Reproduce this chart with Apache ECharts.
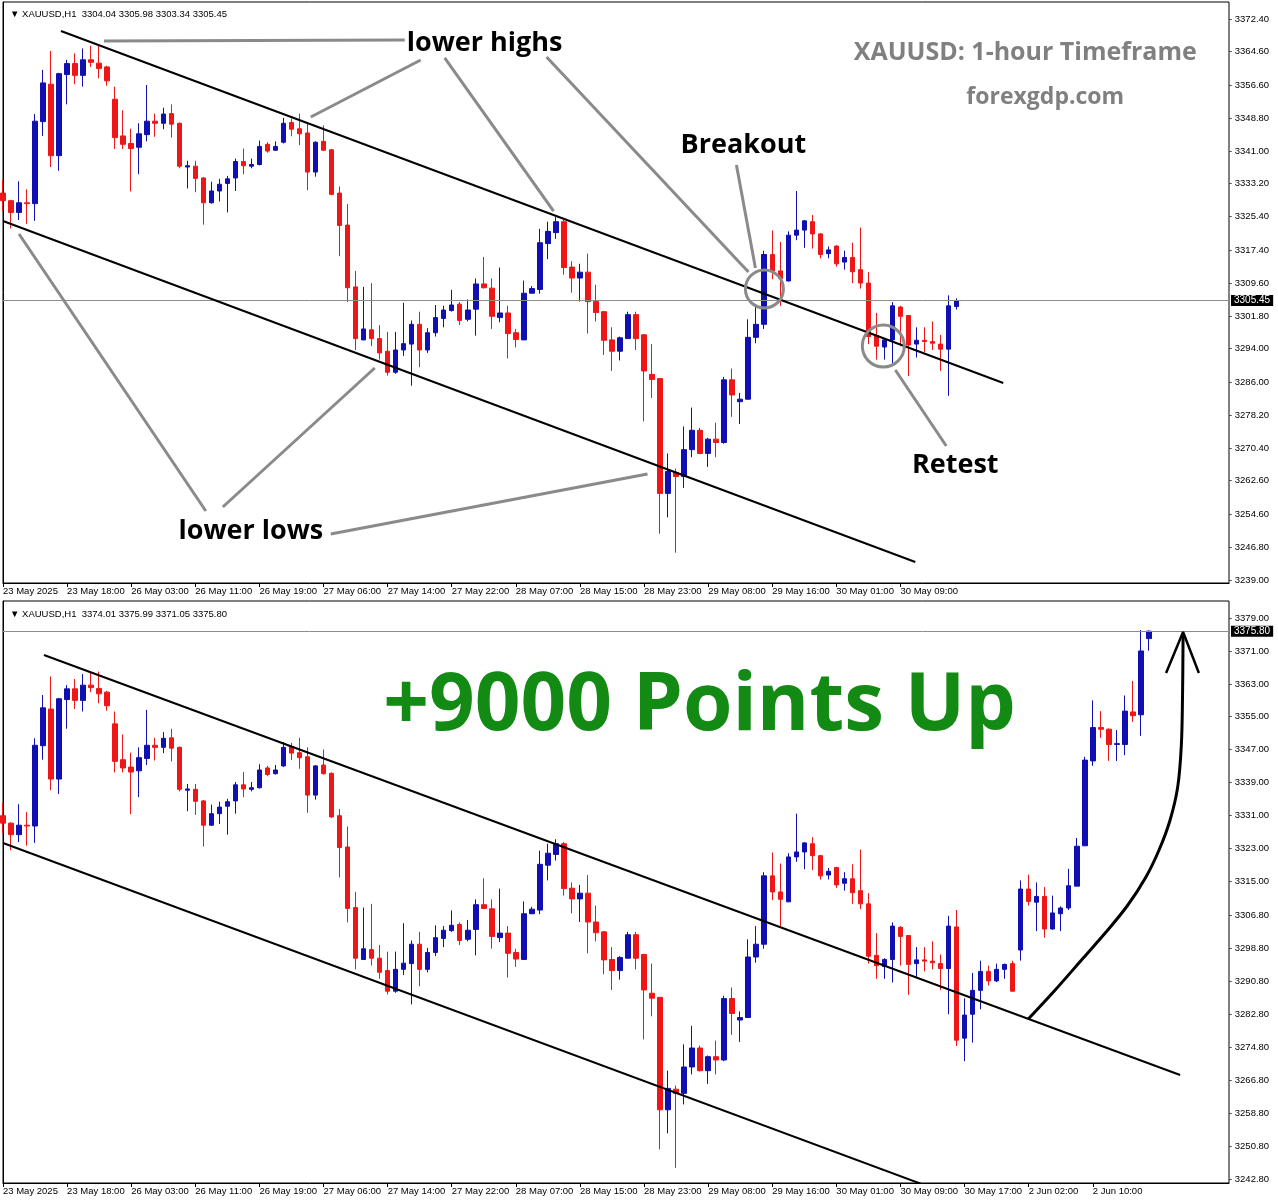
<!DOCTYPE html>
<html><head><meta charset="utf-8">
<script src="https://cdn.jsdelivr.net/npm/echarts@6/dist/echarts.min.js"></script>
<style>html,body{margin:0;padding:0;background:#fff}#c{width:1278px;height:1201px}</style>
</head><body><div id="c"></div>
<script>
// ---------- DATA ----------
const timeTicks = ['23 May 2025','23 May 18:00','26 May 03:00','26 May 11:00','26 May 19:00','27 May 06:00','27 May 14:00','27 May 22:00','28 May 07:00','28 May 15:00','28 May 23:00','29 May 08:00','29 May 16:00','30 May 01:00','30 May 09:00','30 May 17:00','2 Jun 02:00','2 Jun 10:00'];
const topTickCount = 15;
const bottomTickCount = 18;

// hourly bars [open, high, low, close], 23 May 10:00 .. 30 May 15:00 (shared by both panels)
const baseOHLC = [
[3331.0,3334.2,3326.7,3329.2],[3329.2,3329.4,3322.6,3326.4],[3326.4,3333.8,3324.6,3328.7],[3328.7,3331.9,3323.7,3328.5],
[3328.5,3349.8,3324.4,3348.1],[3348.0,3360.3,3344.6,3357.2],[3356.9,3364.8,3337.2,3339.9],[3339.9,3359.6,3336.3,3359.4],
[3359.2,3362.7,3352.1,3361.8],[3361.8,3364.2,3356.9,3359.0],[3359.0,3365.4,3356.3,3362.7],[3362.7,3366.0,3361.0,3362.1],
[3361.9,3366.0,3358.3,3360.6],[3361.0,3361.3,3356.5,3357.7],[3353.3,3356.3,3341.5,3344.2],[3344.6,3350.7,3341.5,3342.6],
[3342.8,3346.3,3331.4,3341.6],[3341.9,3347.6,3335.5,3345.1],[3344.9,3356.7,3343.3,3348.1],[3348.1,3349.9,3344.4,3347.6],
[3347.6,3351.3,3346.2,3349.8],[3349.9,3352.1,3344.2,3347.4],[3347.6,3347.8,3336.9,3337.4],[3337.2,3338.7,3332.1,3337.5],
[3337.4,3338.7,3331.2,3334.5],[3334.6,3334.8,3323.5,3328.7],[3328.7,3333.7,3328.5,3331.5],[3331.5,3334.4,3329.0,3333.1],
[3333.3,3335.1,3326.4,3334.4],[3334.6,3339.2,3331.5,3338.5],[3338.5,3341.6,3335.5,3337.5],[3337.4,3339.2,3336.9,3337.8],
[3337.8,3343.5,3337.6,3342.1],[3342.6,3343.1,3340.6,3341.0],[3341.2,3343.3,3341.0,3342.1],[3343.1,3348.9,3342.8,3347.6],
[3347.8,3348.7,3344.5,3346.2],[3346.3,3349.9,3342.4,3345.1],[3345.3,3347.6,3331.7,3336.0],[3336.0,3343.3,3334.9,3343.1],
[3343.3,3347.1,3341.0,3341.2],[3341.3,3341.5,3330.5,3330.7],[3331.0,3332.6,3316.0,3323.3],[3323.4,3328.4,3305.1,3308.5],
[3308.7,3312.5,3293.7,3296.4],[3296.1,3308.7,3296.0,3298.7],[3298.5,3309.6,3294.6,3296.4],[3296.4,3299.6,3291.4,3293.0],
[3293.4,3298.0,3287.6,3288.4],[3288.4,3298.0,3288.0,3293.7],[3293.7,3304.9,3292.3,3295.2],[3295.1,3300.7,3285.2,3299.8],
[3299.8,3302.8,3289.6,3293.7],[3293.7,3298.9,3293.0,3297.8],[3297.8,3304.4,3296.9,3301.4],[3301.2,3304.2,3299.1,3303.2],
[3303.1,3308.0,3302.8,3304.4],[3304.6,3305.1,3299.6,3300.7],[3301.0,3305.7,3300.5,3303.2],[3303.4,3310.7,3297.1,3309.4],
[3309.4,3315.8,3308.3,3308.5],[3308.4,3310.7,3298.7,3301.7],[3301.4,3313.3,3300.3,3302.5],[3302.5,3304.2,3291.7,3297.6],
[3297.8,3298.7,3294.3,3296.2],[3296.1,3310.2,3296.1,3307.2],[3307.2,3308.9,3307.1,3308.3],[3308.1,3322.5,3307.1,3319.2],
[3319.0,3324.2,3315.3,3321.9],[3321.6,3325.3,3320.1,3324.2],[3324.2,3324.6,3311.6,3313.3],[3313.4,3314.8,3307.3,3310.8],
[3310.8,3314.2,3305.2,3312.2],[3312.2,3316.6,3297.6,3305.2],[3305.2,3309.2,3300.5,3302.6],[3302.8,3303.0,3292.5,3296.0],
[3296.1,3299.1,3288.7,3293.4],[3293.4,3296.9,3291.2,3296.6],[3296.4,3302.8,3296.4,3302.1],[3302.1,3302.8,3293.7,3296.4],
[3297.3,3297.5,3276.7,3288.7],[3287.9,3295.1,3282.3,3286.7],[3286.9,3287.0,3250.0,3259.6],[3259.6,3269.1,3253.9,3264.8],
[3264.6,3265.5,3245.5,3263.6],[3263.6,3275.5,3260.9,3270.0],[3270.0,3280.0,3268.2,3274.6],[3274.6,3275.2,3268.9,3269.1],
[3269.1,3272.8,3265.9,3272.5],[3272.5,3276.4,3268.2,3271.7],[3271.7,3287.3,3271.4,3286.6],[3286.6,3289.3,3277.8,3283.0],
[3281.4,3283.5,3276.1,3282.0],[3282.0,3301.0,3281.9,3296.7],[3296.7,3304.2,3295.3,3299.8],[3299.8,3317.3,3298.7,3316.4],
[3316.4,3322.1,3310.5,3312.5],[3312.5,3319.4,3304.2,3310.7],[3310.1,3321.9,3310.0,3321.0],[3321.0,3331.5,3319.8,3322.2],
[3322.2,3324.6,3318.0,3324.4],[3324.2,3325.8,3317.8,3321.3],[3321.3,3321.5,3315.5,3316.4],[3316.6,3318.3,3315.5,3317.5],
[3318.4,3318.6,3313.5,3314.2],[3314.6,3317.3,3312.8,3315.7],[3315.7,3319.2,3309.6,3312.3],[3312.8,3322.8,3308.3,3309.6],
[3309.6,3312.2,3295.1,3296.9],[3297.1,3302.5,3291.4,3294.6],[3294.4,3296.4,3291.4,3296.1],[3296.1,3305.1,3290.5,3304.2],
[3303.9,3304.2,3294.6,3301.7],[3301.9,3302.0,3287.5,3294.9],[3295.1,3299.1,3291.9,3296.0],[3296.0,3299.1,3293.2,3295.7],
[3295.7,3300.5,3293.7,3295.3],[3295.1,3297.3,3288.7,3293.9],[3293.9,3306.7,3282.8,3304.2]
];
// forming bar of the upper screenshot (30 May 16:00)
const topLiveBar = [3304.04,3305.98,3303.34,3305.45];
// bars of the lower screenshot from 30 May 16:00 to 2 Jun 17:00
const bottomTailOHLC = [
[3304.0,3308.1,3275.1,3276.5],[3277.0,3286.7,3271.4,3282.6],[3282.8,3292.8,3275.9,3288.6],[3288.6,3295.8,3284.0,3293.2],
[3293.2,3294.6,3289.8,3290.9],[3290.9,3295.1,3290.6,3293.7],[3293.7,3295.1,3291.4,3294.9],[3295.1,3295.8,3288.3,3288.4],
[3298.4,3315.3,3295.8,3313.2],[3313.2,3316.7,3309.2,3310.2],[3310.0,3314.8,3303.0,3311.4],[3311.4,3313.7,3301.4,3303.5],
[3303.5,3311.6,3303.3,3307.4],[3307.2,3309.0,3303.0,3308.6],[3308.6,3318.1,3308.1,3314.0],[3313.9,3325.6,3313.9,3323.6],
[3323.7,3345.3,3323.7,3344.5],[3344.3,3359.0,3343.1,3352.4],[3352.4,3356.4,3349.9,3352.0],[3352.0,3352.2,3344.3,3348.3],
[3348.3,3351.8,3344.3,3348.5],[3348.3,3360.2,3345.7,3356.4],[3356.2,3363.7,3353.8,3355.3],[3355.5,3376.1,3350.4,3371.0],
[3374.01,3375.99,3371.05,3375.80]
];

const topYTicks = [3372.40,3364.60,3356.60,3348.80,3341.00,3333.20,3325.40,3317.40,3309.60,3301.80,3294.00,3286.00,3278.20,3270.40,3262.60,3254.60,3246.80,3239.00];
const bottomYTicks = [3379.00,3371.00,3363.00,3355.00,3347.00,3339.00,3331.00,3323.00,3315.00,3306.80,3298.80,3290.80,3282.80,3274.80,3266.80,3258.80,3250.80,3242.80];
const topYRange = [3238.29, 3376.44];
const bottomYRange = [3241.83, 3383.13];
const SLOTS = 154; // bar slots across each panel

// annotations in [bar index, price]
const topChannelLines = [[[7.23,3369.55],[124.83,3285.84]], [[0,3324.37],[113.85,3243.28]]];
const topPointerLines = [
 [[12.6,3367.17],[50.13,3367.41]], [[52.13,3362.65],[38.41,3349.1]], [[55.12,3363.13],[68.71,3326.74]],
 [[67.84,3363.36],[93.03,3312.24]], [[91.53,3337.68],[93.9,3313.19]], [[111.36,3288.94],[117.72,3270.87]],
 [[25.31,3255.41],[2.0,3321.27]], [[27.43,3256.36],[46.39,3289.41]], [[40.9,3249.94],[80.43,3264.21]]
];
const topCircles = [[95.02,3308.2,38],[109.86,3294.64,42]];
const topLabels = [
 {text:'lower highs', at:[60.1,3366.7]}, {text:'Breakout', at:[92.4,3342.3]},
 {text:'Retest', at:[118.84,3266.2]}, {text:'lower lows', at:[30.93,3250.5]}
];
const topTitles = [
 {text:'XAUUSD: 1-hour Timeframe', at:[127.57,3364.4], size:25},
 {text:'forexgdp.com', at:[130.07,3353.8], size:23}
];
const bottomChannelLines = [[[5.11,3370.02],[146.9,3268.05]], [[0,3324.37],[115.3,3241.1]]];
const bottomArrowCurve = [[127.95,3281.65],[131.31,3288.69],[134.81,3296.45],[137.55,3302.52],[140.29,3309.08],[142.6,3316.0],[144.3,3322.8],[145.65,3329.96],[146.6,3338.0],[147.05,3348.0],[147.2,3360.0],[147.27,3374.87]];
const bottomArrowHead = [[145.15,3365.65],[147.27,3375.6],[149.24,3365.65]];
const bottomHeadline = {text:'+9000 Points Up', at:[86.92,3357.39]};

// ---------- BUILD ----------
const topBars = baseOHLC.concat([topLiveBar]);
const bottomBars = baseOHLC.concat(bottomTailOHLC);
const toCandle = b => [b[0], b[3], b[2], b[1]];
const cats = Array.from({length:SLOTS}, (_, i) => String(i));
const FONT = 'Liberation Sans';
const BLUE = '#1010b0', RED = '#ee1616';

function header(bar){ return '\u25BC XAUUSD,H1  ' + bar.map(v => v.toFixed(2)).join(' '); }

function catAxis(g, nTicks){
  return {type:'category', gridIndex:g, data:cats, boundaryGap:false,
    axisLine:{show:true, lineStyle:{color:'#000', width:1}},
    axisTick:{show:true, inside:false, length:4, interval:(i)=> i%8===0 && i/8 < nTicks, lineStyle:{color:'#000'}},
    axisLabel:{show:true, interval:(i)=> i%8===0 && i/8 < nTicks, formatter:(v,i)=> (i%8===0 && i/8<nTicks) ? timeTicks[i/8] : '',
      align:'left', margin:3, fontSize:9.5, color:'#000', fontFamily:FONT, hideOverlap:false},
    splitLine:{show:false}};
}
function valX(g){ return {type:'value', gridIndex:g, min:0, max:SLOTS-1, show:false}; }
function yAx(g, range, ticks){
  return {type:'value', gridIndex:g, position:'right', min:range[0], max:range[1], scale:true,
    axisLine:{show:true, lineStyle:{color:'#000'}},
    axisTick:{show:false},
    axisLabel:{show:true, inside:false, customValues:ticks, formatter:v=>'- ' + Number(v).toFixed(2), fontSize:9.5, margin:0, color:'#000', fontFamily:FONT},
    splitLine:{show:false}, minorTick:{show:false}};
}
function candles(bars, xi, yi){
  const last = bars[bars.length-1][3];
  return {type:'candlestick', xAxisIndex:xi, yAxisIndex:yi, data:bars.map(toCandle), barWidth:5, z:2,
    itemStyle:{color:BLUE, color0:RED, borderColor:BLUE, borderColor0:RED, borderWidth:1},
    markLine:{silent:true, symbol:'none', animation:false,
      lineStyle:{color:'#8c8c8c', width:1, type:'solid'},
      label:{show:true, position:'end', formatter:last.toFixed(2), backgroundColor:'#000', color:'#fff', padding:[1,3,0,3], fontSize:10, fontFamily:FONT, distance:2},
      data:[{yAxis:last}]}};
}
function lines(segs, xi, yi, color, width, z, smooth){
  return segs.map(s => ({type:'line', xAxisIndex:xi, yAxisIndex:yi, data:s, symbol:'none', smooth:smooth||false, silent:true, z:z,
    lineStyle:{color:color, width:width, opacity:1}, animation:false}));
}
function texts(items, xi, yi, style){
  return {type:'scatter', xAxisIndex:xi, yAxisIndex:yi, symbolSize:1, itemStyle:{color:'transparent', opacity:1}, silent:true, z:10,
    data: items.map(t => ({value:t.at, label:Object.assign({show:true, position:'inside', formatter:t.text, opacity:1, textBorderWidth:0}, style, t.size?{fontSize:t.size}:{})}))};
}

const series = [
  candles(topBars, 0, 0),
  ...lines(topChannelLines, 1, 0, '#000', 2, 5),
  ...lines(topPointerLines, 1, 0, '#8a8a8a', 3, 6),
  {type:'scatter', xAxisIndex:1, yAxisIndex:0, silent:true, z:7,
    data: topCircles.map(c => ({value:[c[0], c[1]], symbolSize:c[2]})),
    itemStyle:{color:'transparent', borderColor:'#8a8a8a', borderWidth:3, opacity:1}},
  texts(topLabels, 1, 0, {fontSize:27, fontWeight:'bold', color:'#000', fontFamily:'Open Sans'}),
  texts(topTitles, 1, 0, {fontWeight:'bold', color:'#808080', fontFamily:'Open Sans'}),
  candles(bottomBars, 2, 1),
  ...lines(bottomChannelLines, 3, 1, '#000', 2, 5),
  ...lines([bottomArrowCurve], 3, 1, '#000', 3, 6, 0.35),
  ...lines([bottomArrowHead], 3, 1, '#000', 2.5, 6),
  texts([bottomHeadline], 3, 1, {fontSize:80, fontWeight:'bold', color:'#138a13', fontFamily:'Open Sans'})
];

const chart = echarts.init(document.getElementById('c'), null, {renderer:'canvas'});
chart.setOption({
  animation:false,
  backgroundColor:'#fff',
  textStyle:{fontFamily:FONT},
  title:[
    {text:header(topLiveBar), left:5, top:4, textStyle:{fontSize:9.5, fontWeight:'normal', color:'#000', fontFamily:FONT}},
    {text:header(bottomTailOHLC[bottomTailOHLC.length-1]), left:5, top:604, textStyle:{fontSize:9.5, fontWeight:'normal', color:'#000', fontFamily:FONT}}
  ],
  grid:[
    {left:2, top:2, width:1227, height:581, show:true, borderColor:'#000', borderWidth:1, backgroundColor:'#fff', containLabel:false},
    {left:2, top:601, width:1227, height:582, show:true, borderColor:'#000', borderWidth:1, backgroundColor:'#fff', containLabel:false}
  ],
  xAxis:[catAxis(0, topTickCount), valX(0), catAxis(1, bottomTickCount), valX(1)],
  yAxis:[yAx(0, topYRange, topYTicks), yAx(1, bottomYRange, bottomYTicks)],
  series: series
});
</script></body></html>
